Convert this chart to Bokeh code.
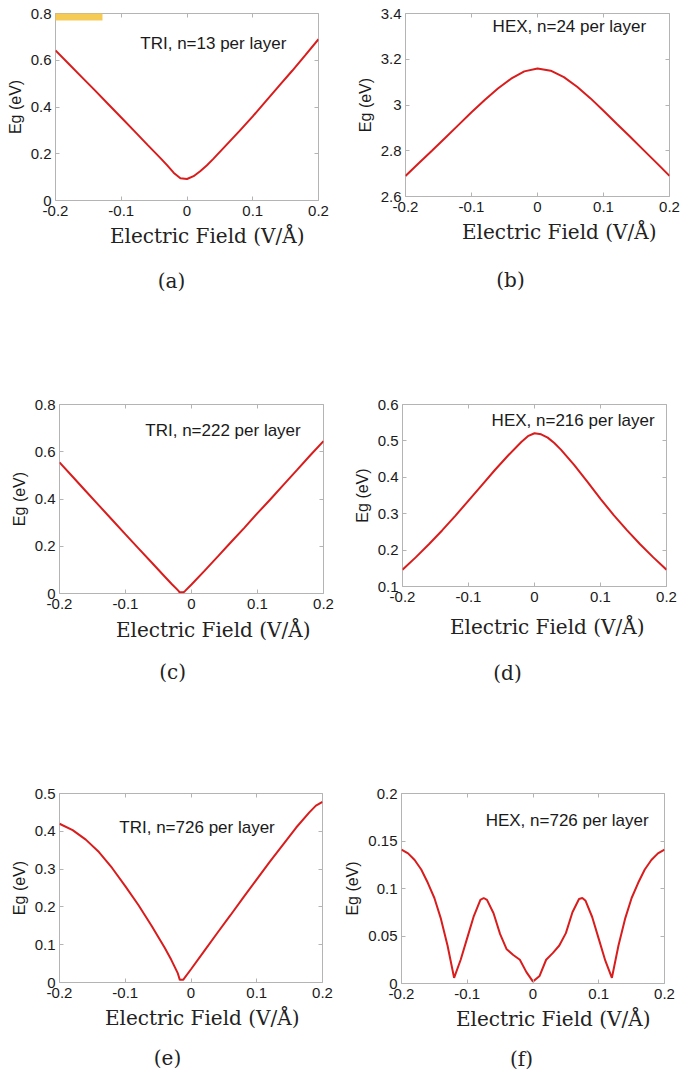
from bokeh.plotting import figure
from bokeh.layouts import column, row
from bokeh.models import (LinearAxis, FixedTicker, CustomJSTickFormatter, Title, Label,
                          Range1d, BoxAnnotation)
from bokeh.embed import file_html
from bokeh.resources import INLINE

# ---------------- data ----------------
x_ticks = [-0.2, -0.1, 0.0, 0.1, 0.2]

a_x = [-0.20, -0.18, -0.16, -0.14, -0.12, -0.10, -0.08, -0.06, -0.04, -0.03, -0.02, -0.01,
       0.00, 0.01, 0.02, 0.03, 0.04, 0.06, 0.08, 0.10, 0.12, 0.14, 0.16, 0.18, 0.20]
a_y = [0.642, 0.585, 0.528, 0.471, 0.413, 0.355, 0.297, 0.238, 0.180, 0.150, 0.118, 0.095,
       0.092, 0.104, 0.125, 0.150, 0.178, 0.238, 0.298, 0.360, 0.425, 0.490, 0.555, 0.622, 0.690]
a_yticks = [0, 0.2, 0.4, 0.6, 0.8]

b_x = [-0.20, -0.18, -0.16, -0.14, -0.12, -0.10, -0.08, -0.06, -0.04, -0.02, 0.00,
       0.02, 0.04, 0.06, 0.08, 0.10, 0.12, 0.14, 0.16, 0.18, 0.20]
b_y = [2.690, 2.745, 2.800, 2.856, 2.912, 2.968, 3.022, 3.072, 3.115, 3.147, 3.160,
       3.150, 3.122, 3.080, 3.030, 2.975, 2.918, 2.862, 2.805, 2.748, 2.690]
b_yticks = [2.6, 2.8, 3.0, 3.2, 3.4]

c_x = [-0.20, -0.18, -0.16, -0.14, -0.12, -0.10, -0.08, -0.06, -0.04, -0.03, -0.02, -0.018,
       -0.012, -0.01, 0.00, 0.02, 0.04, 0.06, 0.08, 0.10, 0.12, 0.14, 0.16, 0.18, 0.20]
c_y = [0.555, 0.494, 0.433, 0.372, 0.311, 0.250, 0.190, 0.130, 0.070, 0.040, 0.012, 0.005,
       0.005, 0.010, 0.038, 0.097, 0.157, 0.218, 0.278, 0.340, 0.400, 0.462, 0.523, 0.585, 0.645]
c_yticks = [0, 0.2, 0.4, 0.6, 0.8]

d_x = [-0.20, -0.18, -0.16, -0.14, -0.12, -0.10, -0.08, -0.06, -0.04, -0.02, -0.01, 0.00,
       0.01, 0.02, 0.03, 0.04, 0.06, 0.08, 0.10, 0.12, 0.14, 0.16, 0.18, 0.20]
d_y = [0.146, 0.180, 0.216, 0.254, 0.294, 0.336, 0.378, 0.420, 0.460, 0.497, 0.513, 0.521,
       0.518, 0.509, 0.494, 0.476, 0.434, 0.388, 0.341, 0.296, 0.255, 0.216, 0.180, 0.146]
d_yticks = [0.1, 0.2, 0.3, 0.4, 0.5, 0.6]

e_x = [-0.20, -0.18, -0.16, -0.14, -0.12, -0.10, -0.08, -0.06, -0.04, -0.03, -0.02, -0.017,
       -0.012, 0.00, 0.02, 0.04, 0.06, 0.08, 0.10, 0.12, 0.14, 0.16, 0.18, 0.19, 0.20]
e_y = [0.420, 0.403, 0.378, 0.345, 0.303, 0.255, 0.205, 0.150, 0.092, 0.060, 0.024, 0.007,
       0.007, 0.035, 0.083, 0.131, 0.178, 0.226, 0.273, 0.320, 0.365, 0.410, 0.450, 0.468, 0.478]
e_yticks = [0, 0.1, 0.2, 0.3, 0.4, 0.5]

f_x = [-0.200, -0.190, -0.180, -0.170, -0.160, -0.150, -0.140, -0.130, -0.120, -0.110,
       -0.100, -0.090, -0.080, -0.075, -0.070, -0.060, -0.050, -0.040, -0.030, -0.020,
       -0.010, 0.000, 0.010, 0.020, 0.030, 0.040, 0.050, 0.060, 0.070, 0.075, 0.080,
       0.090, 0.100, 0.110, 0.120, 0.130, 0.140, 0.150, 0.160, 0.170, 0.180, 0.190, 0.200]
f_y = [0.141, 0.137, 0.130, 0.120, 0.106, 0.090, 0.068, 0.040, 0.006, 0.025,
       0.048, 0.071, 0.088, 0.090, 0.088, 0.074, 0.052, 0.036, 0.030, 0.025,
       0.012, 0.002, 0.008, 0.025, 0.032, 0.040, 0.053, 0.075, 0.089, 0.090, 0.087,
       0.070, 0.047, 0.024, 0.006, 0.040, 0.068, 0.090, 0.106, 0.120, 0.130, 0.137, 0.141]
f_yticks = [0, 0.05, 0.1, 0.15, 0.2]

notes = ["TRI, n=13 per  layer", "HEX, n=24 per layer", "TRI, n=222 per layer",
         "HEX, n=216 per layer", "TRI, n=726 per layer", "HEX, n=726 per layer"]
captions = ["(a)", "(b)", "(c)", "(d)", "(e)", "(f)"]
x_label = "Electric Field (V/\u00c5)"
y_label = "Eg (eV)"

# ---------------- styling / layout ----------------
RED = "#d91c1c"
GREY = "#b4b4b4"
TICK_FONT = "Liberation Sans"
SERIF = "DejaVu Serif"

fmt = CustomJSTickFormatter(code="return String(Math.round(tick*1000)/1000)")

# geometry: left, frame_w, right, top, frame_h, bottom ; x-label centre / caption centre
# (from frame left) ; x-label standoff ; caption standoff
specs = [
    (a_x, a_y, a_yticks, (-0.071, 0.672), (55, 263, 22, 13, 187, 190), 151, 116, 6, 32),
    (b_x, b_y, b_yticks, (-0.068, 3.343), (65, 264, 12, 12, 183, 195), 153, 105, 7, 36),
    (c_x, c_y, c_yticks, (-0.070, 0.690), (59, 264, 17, 12, 189, 189), 153, 113, 9, 23),
    (d_x, d_y, d_yticks, (-0.065, 0.556), (62, 264, 15, 14, 182, 194), 144, 105, 17, 22),
    (e_x, e_y, e_yticks, (-0.109, 0.410), (59, 263, 18, 13, 189, 96), 142, 108, 6, 22),
    (f_x, f_y, f_yticks, (-0.072, 0.172), (61, 263, 17, 11, 190, 97), 151, 120, 6, 22),
]

XLABEL_W = 193
CAP_W = {"(a)": 27.5, "(b)": 28.4, "(c)": 26.7, "(d)": 28.4, "(e)": 27.5, "(f)": 23}


def style_axis(ax, ticks, standoff, show=True):
    ax.ticker = FixedTicker(ticks=ticks)
    ax.formatter = fmt
    ax.axis_line_color = None
    ax.major_tick_line_color = GREY
    ax.major_tick_in = 4
    ax.major_tick_out = 0
    ax.minor_tick_line_color = None
    ax.major_label_text_font = TICK_FONT
    ax.major_label_text_color = "#1a1a1a"
    if show:
        ax.major_label_text_font_size = "15px"
        ax.major_label_standoff = standoff
    else:
        ax.major_label_text_font_size = "0px"
        ax.major_label_standoff = 0


figs = []
for i, (xs, ys, yt, npos, geo, xl_c, cap_c, xl_so, cap_so) in enumerate(specs):
    left, fw, right, top, fh, bottom = geo
    p = figure(frame_width=fw, frame_height=fh, x_range=Range1d(-0.2, 0.2),
               y_range=Range1d(yt[0], yt[-1]), output_backend="svg",
               toolbar_location=None, min_border_left=left, min_border_right=right,
               min_border_top=top, min_border_bottom=bottom)
    p.grid.visible = False
    p.outline_line_color = GREY
    p.outline_line_width = 1
    p.background_fill_color = "white"
    p.border_fill_color = "white"

    style_axis(p.xaxis[0], x_ticks, 5)
    style_axis(p.yaxis[0], yt, 4)
    p.yaxis[0].axis_label = y_label
    p.yaxis[0].axis_label_text_font = TICK_FONT
    p.yaxis[0].axis_label_text_font_size = "16px"
    p.yaxis[0].axis_label_text_font_style = "normal"
    p.yaxis[0].axis_label_text_color = "#1a1a1a"
    p.yaxis[0].axis_label_standoff = 4

    # inward ticks on the top and right edges of the box (MATLAB-style box)
    ax_top = LinearAxis()
    style_axis(ax_top, x_ticks, 0, show=False)
    p.add_layout(ax_top, "above")
    ax_r = LinearAxis()
    style_axis(ax_r, yt, 0, show=False)
    p.add_layout(ax_r, "right")

    p.line(xs, ys, line_color=RED, line_width=2)

    p.add_layout(Label(x=npos[0], y=npos[1], text=notes[i], text_font=TICK_FONT,
                       text_font_size="17px", text_baseline="middle",
                       text_align="left", text_color="#1a1a1a"))

    p.add_layout(Title(text=x_label, align="left", offset=xl_c - XLABEL_W / 2,
                       text_font=SERIF, text_font_size="20px", text_font_style="normal",
                       text_color="#222222", standoff=xl_so), "below")
    p.add_layout(Title(text=captions[i], align="left",
                       offset=cap_c - CAP_W[captions[i]] / 2,
                       text_font=SERIF, text_font_size="20px", text_font_style="normal",
                       text_color="#222222", standoff=cap_so), "below")
    figs.append(p)

# the cropped yellow figure-tag bar in the top-left corner (visible part inside panel a)
figs[0].add_layout(BoxAnnotation(left=0, right=102, top=12, bottom=20,
                                 left_units="canvas", right_units="canvas",
                                 top_units="canvas", bottom_units="canvas",
                                 fill_color="#f5c542", fill_alpha=0.9,
                                 line_color=None, level="overlay"))

layout = column(row(figs[0], figs[1]), row(figs[2], figs[3]), row(figs[4], figs[5]))
open("out.html", "w").write(file_html(layout, INLINE))
